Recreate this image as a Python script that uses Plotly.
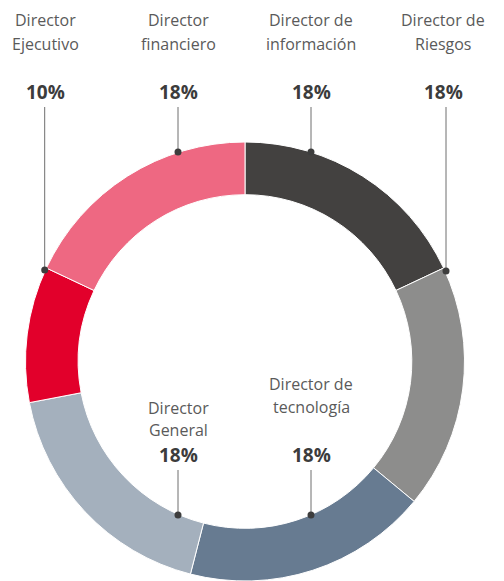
import plotly.graph_objects as go

# Data
categories = ["Director de<br>información", "Director de<br>Riesgos", "Director de<br>tecnología",
              "Director<br>General", "Director<br>Ejecutivo", "Director<br>financiero"]
values = [18, 18, 18, 18, 10, 18]
pct_labels = ["18%", "18%", "18%", "18%", "10%", "18%"]
colors = ["#434140", "#8d8d8c", "#677b91", "#a4b0bd", "#e2002b", "#ee6882"]

# page has an 8px body margin; map reference pixels to figure paper coords
OFF = 8
W, H = 496, 573

def px(x):
    return (x - OFF) / W

def py(y):
    return 1 - (y - OFF) / H

fig = go.Figure(go.Pie(
    labels=[c.replace("<br>", " ") for c in categories],
    values=values,
    sort=False,
    direction="clockwise",
    rotation=0,
    hole=0.76,
    marker=dict(colors=colors, line=dict(color="white", width=1)),
    textinfo="none",
    hoverinfo="skip",
    showlegend=False,
    domain=dict(x=[px(25), px(465)], y=[max(0, py(582)), py(142)]),
))

# label layout: (label x, line1 y, line2 y, pct y, line x, line y0, line y1)
layout_pos = {
    0: (311, 20, 44, 92, 311, 107, 152),
    1: (443, 20, 44, 92, 446, 107, 271),
    2: (311, 384, 407, 455, 311, 470, 515),
    3: (178, 408, 430, 455, 178, 470, 515),
    4: (45, 20, 44, 92, 44.7, 107, 270),
    5: (178, 20, 44, 92, 178, 107, 152),
}

annotations = []
shapes = []
font_lbl = dict(family="Open Sans, Noto Sans, sans-serif", size=16, color="#5a5a5a")
font_pct = dict(family="Open Sans, Noto Sans, sans-serif", size=19, color="#3c3c3c")
for i, cat in enumerate(categories):
    lx, y1, y2, yp, lnx, ly0, ly1 = layout_pos[i]
    parts = cat.split("<br>")
    for part, yy in zip(parts, [y1, y2]):
        annotations.append(dict(x=px(lx), y=py(yy), xref="paper", yref="paper", text=part,
                                showarrow=False, xanchor="center", yanchor="middle", font=font_lbl))
    annotations.append(dict(x=px(lx), y=py(yp), xref="paper", yref="paper",
                            text="<b>" + pct_labels[i] + "</b>",
                            showarrow=False, xanchor="center", yanchor="middle", font=font_pct))
    shapes.append(dict(type="line", xref="paper", yref="paper",
                       x0=px(lnx), x1=px(lnx), y0=py(ly0), y1=py(ly1),
                       line=dict(color="#6e6e6e", width=1)))
    shapes.append(dict(type="circle", xref="paper", yref="paper",
                       xsizemode="pixel", ysizemode="pixel",
                       xanchor=px(lnx), yanchor=py(ly1),
                       x0=-3.5, x1=3.5, y0=-3.5, y1=3.5,
                       fillcolor="#3d3d3d", line=dict(width=0)))

fig.update_layout(
    width=W, height=H,
    margin=dict(l=0, r=0, t=0, b=0),
    paper_bgcolor="white",
    plot_bgcolor="white",
    annotations=annotations,
    shapes=shapes,
)

fig.write_html("out.html")
